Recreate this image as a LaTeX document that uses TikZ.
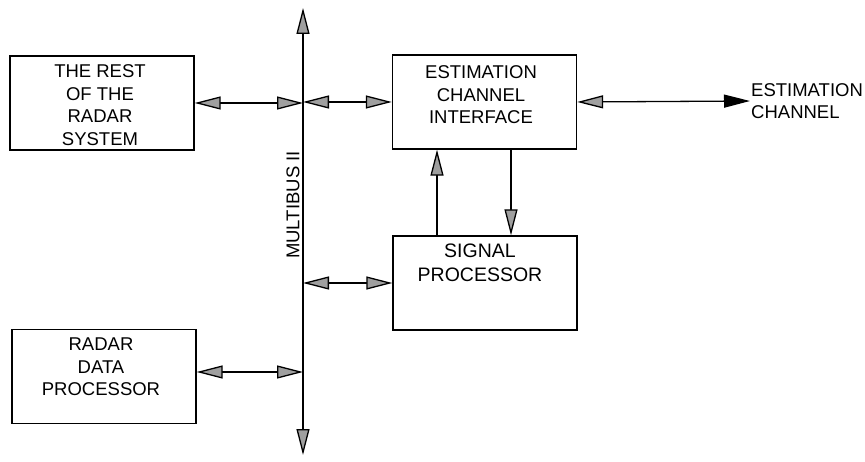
\documentclass[tikz,border=0pt]{standalone}
\usepackage{fontspec}
\setmainfont{Liberation Sans}
\usetikzlibrary{arrows.meta,positioning}

\begin{document}
\begin{tikzpicture}[x=1pt, y=-1pt,
	block/.style={draw, line width=1.4pt, minimum width=184pt, minimum height=94pt, inner sep=0pt},
	lbl/.style={align=center, inner sep=1pt, font=\fontsize{18.5}{22.5}\selectfont},
	link/.style={line width=1.3pt, >={Triangle[length=26pt,width=13pt,fill=gray!75]}}]
	\useasboundingbox (0,0) rectangle (865,462);
	\node[block] (rest) at (102,103) {};
	\node[block] (eci) at (484.5,102) {};
	\node[block] (sp) at (485,283) {};
	\node[block] (rdp) at (104,376.5) {};
	\node[lbl] (resttext) at (100,105) {THE REST\\OF THE\\RADAR\\SYSTEM};
	\node[lbl] (ecitext) at (481,95) {ESTIMATION\\CHANNEL\\INTERFACE};
	\node[lbl, font=\fontsize{19.5}{23.5}\selectfont] (sptext) at (480,263) {SIGNAL\\PROCESSOR};
	\node[lbl] (rdptext) at (101,367) {RADAR\\DATA\\PROCESSOR};
	\node[lbl, align=left, anchor=west] (ecout) at (750,101) {ESTIMATION\\CHANNEL};
	\node[lbl, rotate=90] (busname) at (293,205) {MULTIBUS II};
	\coordinate (bustop) at (303,8);
	\coordinate (busbot) at (303,455);
	\coordinate (busx) at (303,0);
	\coordinate (rdpbus) at (303,372);
	\coordinate (upx) at (437,0);
	\coordinate (downx) at (511,0);
	\draw[link, <->] (bustop) -- (busbot);
	\draw[link, <->] (rest.east) -- (rest.east -| busx);
	\draw[link, <->] (eci.west -| busx) -- (eci.west);
	\draw[link, <->] (sp.west -| busx) -- (sp.west);
	\draw[link, <->] (rdp.east |- rdpbus) -- (rdpbus);
	\draw[link, ->] (upx |- sp.north) -- (upx |- eci.south);
	\draw[link, ->] (downx |- eci.south) -- (downx |- sp.north);
	\draw[link, {Triangle[length=26pt,width=13pt,fill=gray!75]}-{Triangle[length=26pt,width=13pt,fill=black]}] (eci.east) -- (ecout.west);
\end{tikzpicture}
\end{document}
